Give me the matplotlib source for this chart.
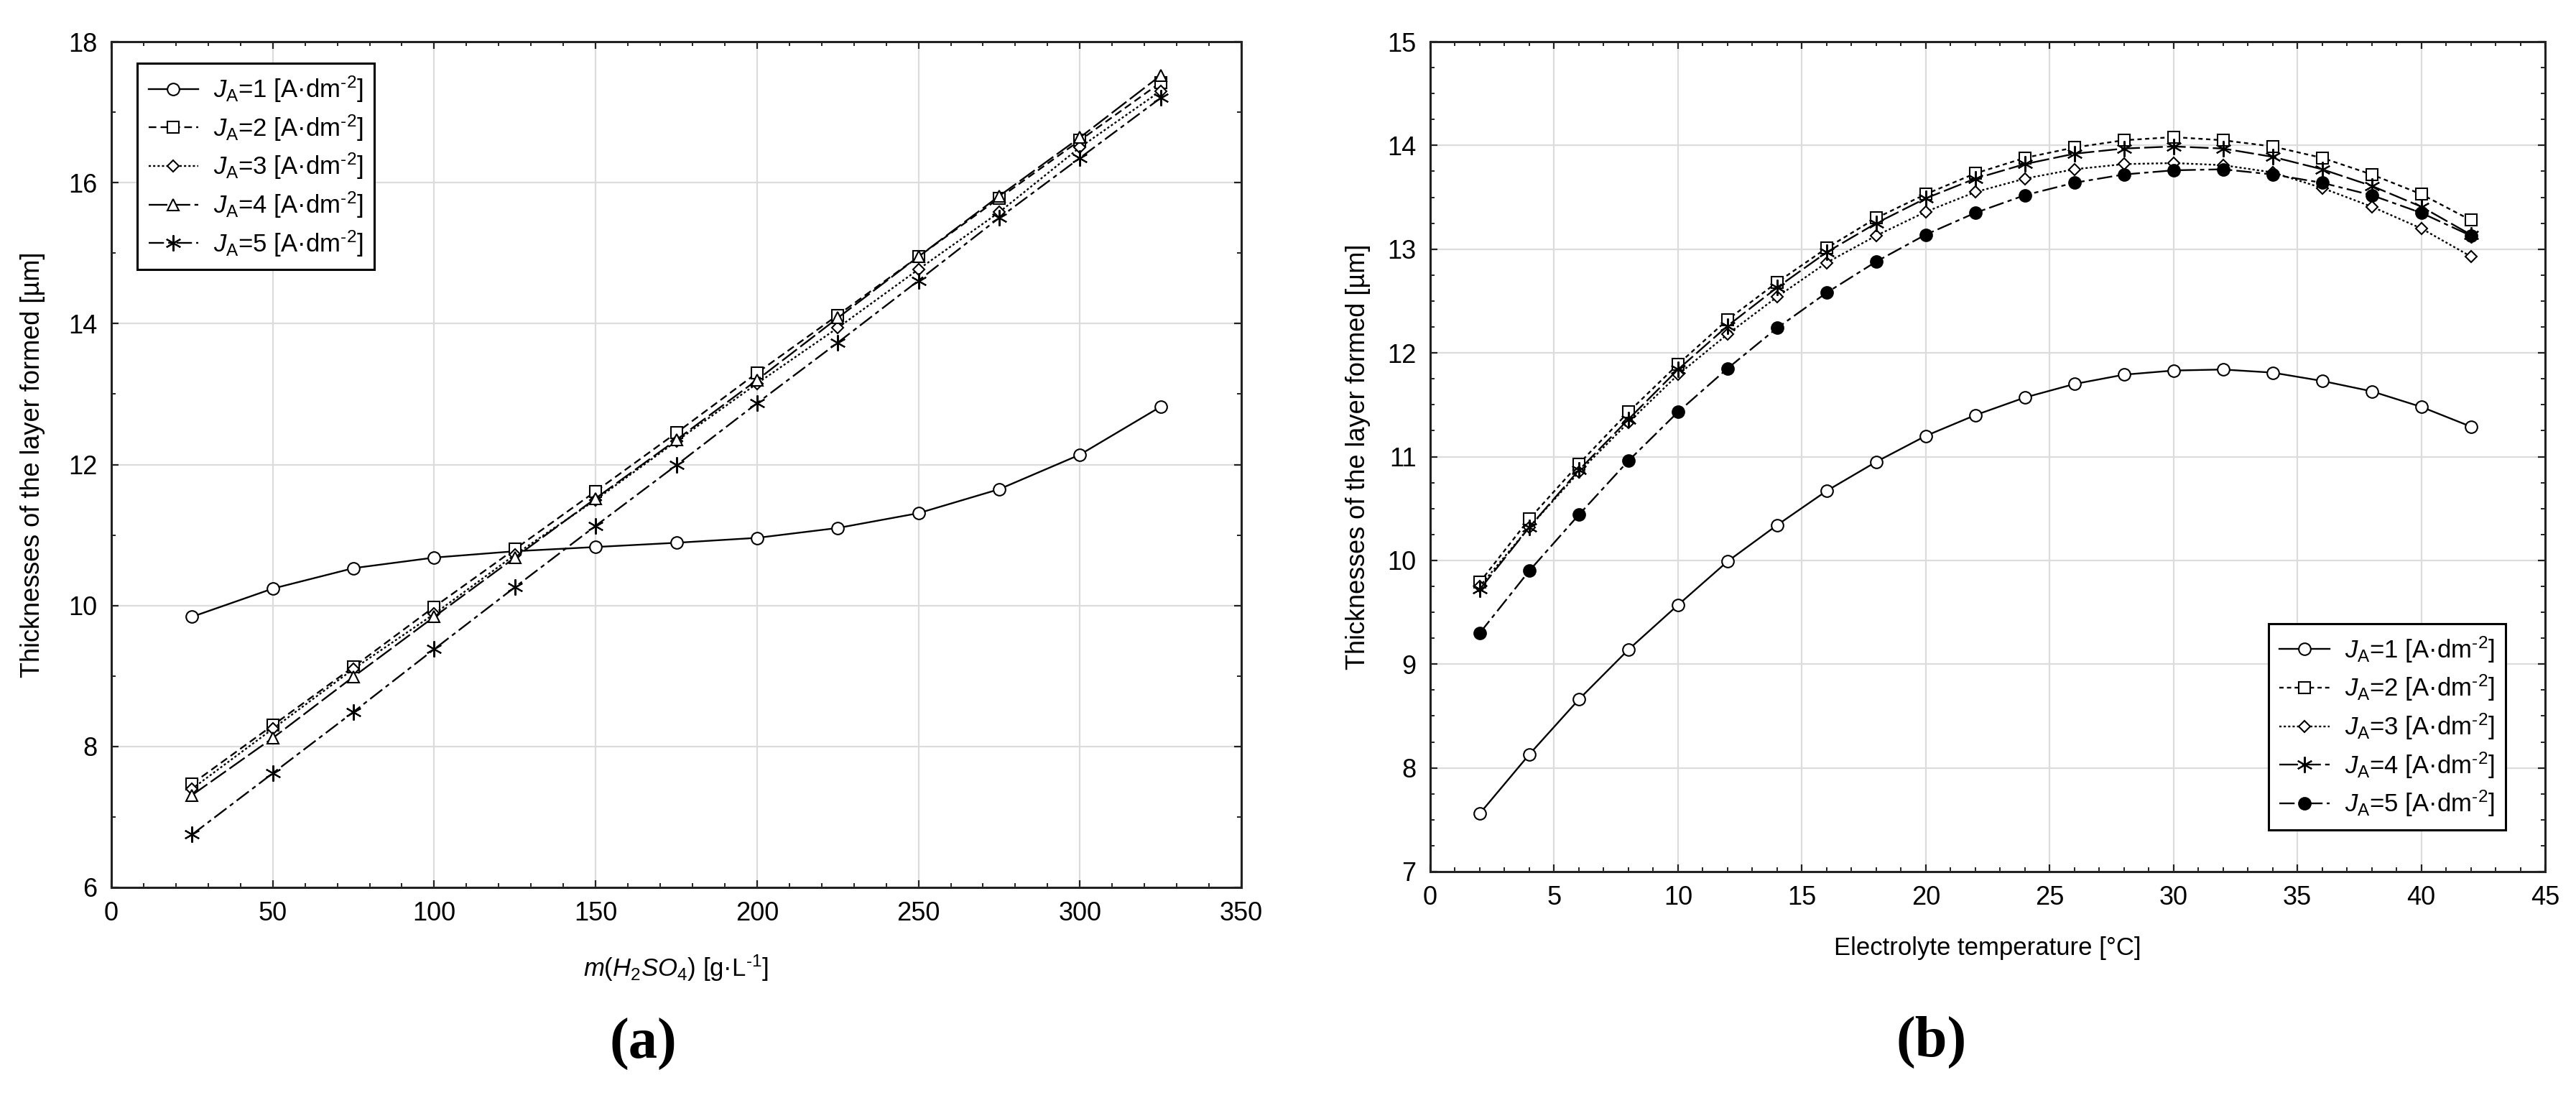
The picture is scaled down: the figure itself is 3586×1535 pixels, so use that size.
import matplotlib
matplotlib.use('Agg')
import matplotlib.pyplot as plt
from matplotlib.ticker import MultipleLocator

plt.rcParams['font.family'] = ['Liberation Sans', 'DejaVu Sans']
plt.rcParams['mathtext.fontset'] = 'custom'
plt.rcParams['mathtext.rm'] = 'Liberation Sans'
plt.rcParams['mathtext.it'] = 'Liberation Sans:italic'
plt.rcParams['mathtext.bf'] = 'Liberation Sans:bold'

# ---- data: (a) thickness vs H2SO4 concentration ----
conc = [25, 50, 75, 100, 125, 150, 175, 200, 225, 250, 275, 300, 325]
a_j1 = [9.84, 10.24, 10.53, 10.68, 10.77, 10.83, 10.89, 10.96, 11.10, 11.31, 11.65, 12.14, 12.82]
a_j2 = [7.47, 8.30, 9.13, 9.98, 10.80, 11.62, 12.45, 13.30, 14.12, 14.95, 15.78, 16.60, 17.42]
a_j3 = [7.40, 8.25, 9.10, 9.88, 10.72, 11.50, 12.33, 13.15, 13.94, 14.77, 15.58, 16.50, 17.30]
a_j4 = [7.31, 8.12, 8.99, 9.84, 10.68, 11.52, 12.35, 13.20, 14.08, 14.95, 15.81, 16.64, 17.52]
a_j5 = [6.75, 7.62, 8.49, 9.38, 10.26, 11.13, 11.99, 12.87, 13.73, 14.61, 15.50, 16.35, 17.20]

# ---- data: (b) thickness vs electrolyte temperature ----
temp = [2, 4, 6, 8, 10, 12, 14, 16, 18, 20, 22, 24, 26, 28, 30, 32, 34, 36, 38, 40, 42]
b_j1 = [7.56, 8.13, 8.66, 9.14, 9.57, 9.99, 10.34, 10.67, 10.95, 11.20, 11.40, 11.57,
        11.70, 11.79, 11.83, 11.84, 11.81, 11.73, 11.63, 11.48, 11.29]
b_j2 = [9.79, 10.40, 10.93, 11.43, 11.89, 12.32, 12.68, 13.01, 13.30, 13.53, 13.73, 13.88,
        13.98, 14.05, 14.08, 14.05, 13.99, 13.88, 13.72, 13.53, 13.28]
b_j3 = [9.75, 10.32, 10.85, 11.33, 11.79, 12.18, 12.54, 12.87, 13.13, 13.36, 13.55, 13.68,
        13.77, 13.82, 13.83, 13.81, 13.74, 13.59, 13.41, 13.20, 12.93]
b_j4 = [9.72, 10.32, 10.87, 11.36, 11.84, 12.26, 12.63, 12.97, 13.25, 13.49, 13.68, 13.82,
        13.92, 13.97, 13.99, 13.97, 13.89, 13.77, 13.61, 13.41, 13.14]
b_j5 = [9.30, 9.90, 10.44, 10.96, 11.43, 11.85, 12.24, 12.58, 12.88, 13.14, 13.35, 13.52,
        13.64, 13.72, 13.76, 13.77, 13.72, 13.64, 13.52, 13.35, 13.13]

labels = [r'$J_{\mathrm{A}}$=%d [A·dm$^{\text{-}2}$]' % k for k in range(1, 6)]
ylabel = 'Thicknesses of the layer formed [µm]'

W, H = 3586, 1535
fig = plt.figure(figsize=(W / 100, H / 100), dpi=100)
ax1 = fig.add_axes([155 / W, 1 - 1235 / H, (1728 - 155) / W, (1235 - 58) / H])
ax2 = fig.add_axes([1991 / W, 1 - 1213 / H, (3543 - 1991) / W, (1213 - 58) / H])

lw = 1.7
styles_a = [
    dict(ls='-', marker='o', ms=12, mfc='white'),
    dict(ls=(0, (4.5, 2.5)), marker='s', ms=11, mfc='white'),
    dict(ls=(0, (1.3, 1.3)), marker='D', ms=8, mfc='white'),
    dict(ls=(0, (11, 2.5)), marker='^', ms=12, mfc='white'),
    dict(ls=(0, (9, 2.5, 2.5, 2.5)), marker=(6, 2, 0), ms=16, mfc='black'),
]
styles_b = [
    dict(ls='-', marker='o', ms=12, mfc='white'),
    dict(ls=(0, (2.5, 2)), marker='s', ms=11, mfc='white'),
    dict(ls=(0, (1.3, 1.3)), marker='D', ms=8, mfc='white'),
    dict(ls=(0, (11, 2.5)), marker=(6, 2, 0), ms=16, mfc='black'),
    dict(ls=(0, (9, 2.5, 2.5, 2.5)), marker='o', ms=12, mfc='black'),
]

for ys, lab, st in zip([a_j1, a_j2, a_j3, a_j4, a_j5], labels, styles_a):
    ax1.plot(conc, ys, color='black', lw=lw, mec='black', mew=1.5, label=lab, **st)
for ys, lab, st in zip([b_j1, b_j2, b_j3, b_j4, b_j5], labels, styles_b):
    ax2.plot(temp, ys, color='black', lw=lw, mec='black', mew=1.5, label=lab, **st)

ax1.set_xlim(0, 350)
ax1.set_ylim(6, 18)
ax1.xaxis.set_major_locator(MultipleLocator(50))
ax1.xaxis.set_minor_locator(MultipleLocator(10))
ax1.yaxis.set_major_locator(MultipleLocator(2))
ax1.yaxis.set_minor_locator(MultipleLocator(1))

ax2.set_xlim(0, 45)
ax2.set_ylim(7, 15)
ax2.xaxis.set_major_locator(MultipleLocator(5))
ax2.xaxis.set_minor_locator(MultipleLocator(1))
ax2.yaxis.set_major_locator(MultipleLocator(1))
ax2.yaxis.set_minor_locator(MultipleLocator(0.25))

for ax in (ax1, ax2):
    ax.set_axisbelow(True)
    ax.grid(True, which='major', color='#dcdcdc', lw=1.6)
    ax.tick_params(which='both', direction='in', top=True, right=True,
                   labelsize=26, pad=14, color='#222222')
    ax.tick_params(which='major', length=7, width=1.6)
    ax.tick_params(which='minor', length=4, width=1.4)
    for sp in ax.spines.values():
        sp.set_linewidth(2.2)
        sp.set_color('#222222')
    ax.set_ylabel(ylabel, fontsize=26)

ax1.set_xlabel(r'$\mathit{m(H_2SO_4)}$ [g·L$^{\text{-}1}$]', fontsize=25)
ax2.set_xlabel('Electrolyte temperature [°C]', fontsize=25)
ax1.xaxis.set_label_coords(0.5, -0.078)
ax2.xaxis.set_label_coords(0.5, -0.078)
ax1.yaxis.set_label_coords(-0.0585, 0.5)
ax2.yaxis.set_label_coords(-0.0535, 0.5)

leg_kw = dict(fontsize=25, numpoints=1, handlelength=2.0, handletextpad=0.6,
              labelspacing=0.35, borderpad=0.45, borderaxespad=0, fancybox=False,
              framealpha=1, edgecolor='black')
leg1 = ax1.legend(loc='upper left', bbox_to_anchor=(0.0229, 0.9745), **leg_kw)
leg2 = ax2.legend(loc='lower right', bbox_to_anchor=(0.9646, 0.0502), **leg_kw)
for leg in (leg1, leg2):
    leg.get_frame().set_linewidth(2.2)

fig.text(895 / W, 1 - 1453 / H, '(a)', ha='center', va='center',
         family='Liberation Serif', weight='bold', fontsize=58)
fig.text(2689 / W, 1 - 1450 / H, '(b)', ha='center', va='center',
         family='Liberation Serif', weight='bold', fontsize=58)

fig.savefig('out.png', dpi=100, facecolor='white')
